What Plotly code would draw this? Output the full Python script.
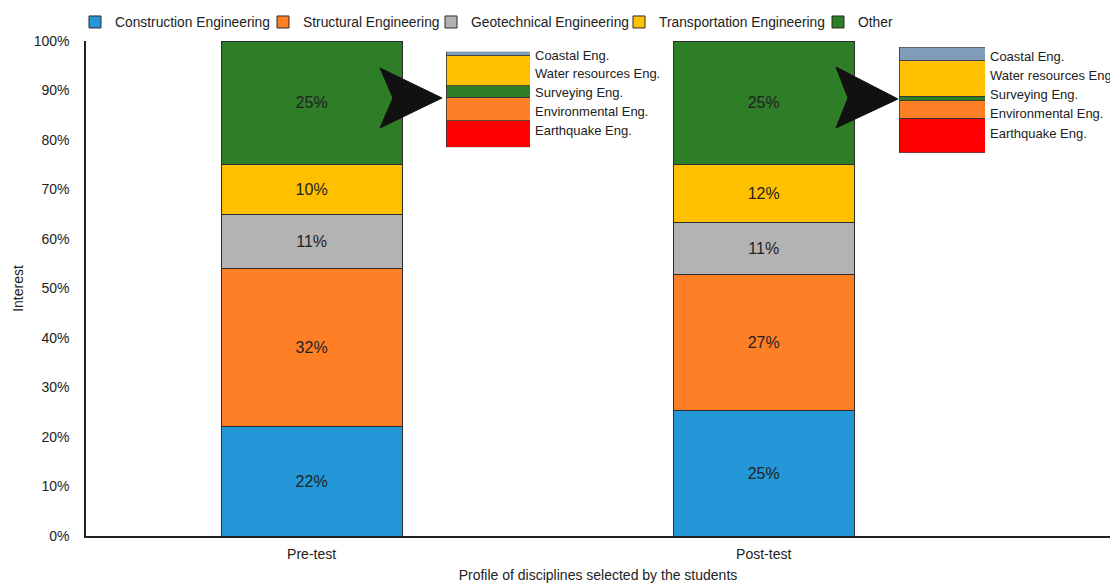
import plotly.graph_objects as go

# ---- data ----
tests = ["Pre-test", "Post-test"]
series_names = ["Construction Engineering", "Structural Engineering", "Geotechnical Engineering",
                "Transportation Engineering", "Other"]
pre_values = [22.1, 32.0, 10.9, 10.0, 25.0]
post_values = [25.4, 27.4, 10.6, 11.6, 25.0]
series_colors = ["#2397D8", "#FF7F27", "#B3B3B3", "#FFC000", "#2E7D27"]

other_names = ["Earthquake Eng.", "Environmental Eng.", "Surveying Eng.", "Water resources Eng.", "Coastal Eng."]
other_pre = [7.0, 6.1, 2.95, 7.9, 1.05]
other_post = [8.2, 4.1, 1.1, 8.4, 3.2]
other_colors = ["#FF0000", "#FF7F27", "#2E7D27", "#FFC000", "#7F9DB9"]
other_label_order = ["Coastal Eng.", "Water resources Eng.", "Surveying Eng.", "Environmental Eng.", "Earthquake Eng."]

y_ticks = [0, 10, 20, 30, 40, 50, 60, 70, 80, 90, 100]

# ---- geometry helpers (page pixels; body margin removed below) ----
OFF = 0
W, H = 1110, 583
ML, MR, MT, MB = 86, 0, 41, 47
PW, PH = W - ML - MR, H - MT - MB


def px(x):
    return (x - OFF - ML) / PW


def py(y):
    return (H - MB - (y - OFF)) / PH


FONT = "Liberation Sans, Arial, sans-serif"

# legend entry text start positions (page px)
legend_text_x = [113, 301, 469, 657, 856]
legend_ids = ["legend", "legend2", "legend3", "legend4", "legend5"]

fig = go.Figure()

for i, name in enumerate(series_names):
    vals = [pre_values[i], post_values[i]]
    fig.add_trace(go.Bar(
        x=tests, y=vals, name=name, legend=legend_ids[i],
        marker=dict(color=series_colors[i], line=dict(color="#2b2b2b", width=1)),
        width=0.4,
        texttemplate="%{y:.0f}%", textposition="inside", insidetextanchor="middle",
        textangle=0, textfont=dict(size=16, color="#222"),
        hoverinfo="skip",
    ))

# insets for "Other"
for vals, xa, ya in [(other_pre, "x2", "y2"), (other_post, "x3", "y3")]:
    for j, nm in enumerate(other_names):
        fig.add_trace(go.Bar(
            x=[0], y=[vals[j]], name=nm, showlegend=False,
            marker=dict(color=other_colors[j], line=dict(color="#333", width=0.8)),
            width=1, xaxis=xa, yaxis=ya, hoverinfo="skip",
        ))

hidden = dict(visible=False, fixedrange=True)
legends = {}
for lid, tx in zip(legend_ids, legend_text_x):
    legends[lid] = dict(orientation="h", xref="paper", yref="paper", x=px(tx - 38), y=py(22),
                        xanchor="left", yanchor="middle", font=dict(size=13.8),
                        itemwidth=30, bgcolor="rgba(0,0,0,0)")

fig.update_layout(
    width=W, height=H,
    margin=dict(l=ML, r=MR, t=MT, b=MB, autoexpand=False),
    paper_bgcolor="white", plot_bgcolor="white",
    barmode="stack",
    font=dict(family=FONT, size=14, color="#222"),
    showlegend=True,
    xaxis=dict(range=[-0.499, 1.766], showline=True, linecolor="#222", linewidth=1.5,
               ticks="", showgrid=False, tickfont=dict(size=14), ticklabelstandoff=4,
               automargin=False,
               title=dict(text="Profile of disciplines selected by the students", font=dict(size=14), standoff=11)),
    yaxis=dict(range=[0, 100], tickvals=y_ticks, ticktext=[f"{v}%" for v in y_ticks],
               showline=True, linecolor="#222", linewidth=1.5, showgrid=False, zeroline=False,
               ticks="", tickfont=dict(size=14), ticklabelstandoff=12, automargin=False,
               title=dict(text="Interest", font=dict(size=14), standoff=7)),
    xaxis2=dict(domain=[px(446), px(530)], range=[-0.5, 0.5], anchor="y2", **hidden),
    yaxis2=dict(domain=[py(147.3), py(51.7)], range=[0, 25], anchor="x2", **hidden),
    xaxis3=dict(domain=[px(899), px(985)], range=[-0.5, 0.5], anchor="y3", **hidden),
    yaxis3=dict(domain=[py(152.7), py(47.3)], range=[0, 25], anchor="x3", **hidden),
    **legends,
)

# inset labels
pre_label_y = [56, 73.5, 92, 111, 131]
post_label_y = [57, 75, 94, 113, 133]
for xs, ys in [(533, pre_label_y), (988, post_label_y)]:
    for lab, yy in zip(other_label_order, ys):
        fig.add_annotation(text=lab, xref="paper", yref="paper", x=px(xs), y=py(yy),
                           xanchor="left", yanchor="middle", showarrow=False,
                           font=dict(size=13, color="#222"))

# arrowheads
def arrow_path(pts):
    return "M " + " L ".join(f"{px(a):.5f},{py(b):.5f}" for a, b in pts) + " Z"

for pts in [[(380, 68), (442, 98), (380, 128), (393, 98)],
            [(836, 67), (898, 99), (836, 128), (848, 98)]]:
    fig.add_shape(type="path", xref="paper", yref="paper", path=arrow_path(pts),
                  fillcolor="#111", line=dict(color="#111", width=1), layer="above")

fig.write_html("out.html", config={"displayModeBar": False},
               post_script="document.body.style.margin='0';document.body.style.overflow='hidden';")
